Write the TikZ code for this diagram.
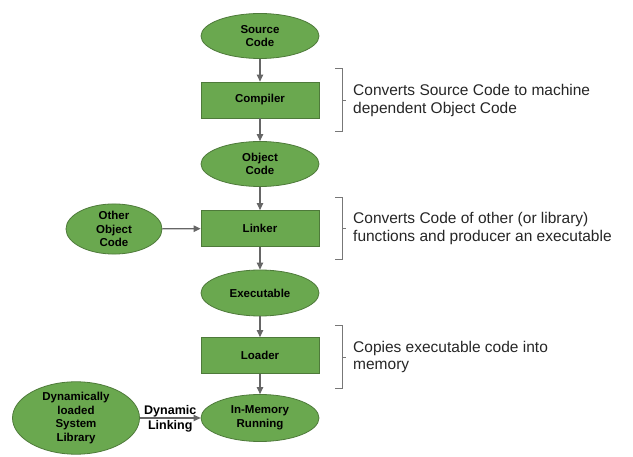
\documentclass[tikz,border=0pt]{standalone}
\usepackage{fontspec}
\setmainfont{Liberation Sans}
\usetikzlibrary{shapes.geometric,arrows.meta}
\definecolor{gfill}{HTML}{6AA84F}
\definecolor{gline}{HTML}{4E7A3A}
\definecolor{arr}{HTML}{666666}
\definecolor{brk}{HTML}{777777}
\tikzset{
  lbl/.style={font=\fontsize{11.5}{13.5}\selectfont\bfseries, align=center, text=black},
  oval/.style={ellipse, draw=gline, line width=0.8pt, fill=gfill, inner sep=0pt, lbl},
  box/.style={rectangle, draw=gline, line width=0.8pt, fill=gfill, minimum width=118pt, minimum height=36pt, inner sep=0pt, lbl},
  conn/.style={draw=arr, line width=1.2pt, -{Triangle[length=7pt,width=6.5pt]}},
  desc/.style={font=\fontsize{15.5}{17.5}\selectfont, align=left, anchor=west, text=black!85, inner sep=0pt},
  brace/.style={draw=brk, line width=0.9pt}
}
\begin{document}
\begin{tikzpicture}[x=1pt,y=-1pt]
\useasboundingbox (0,0) rectangle (633,457);
% nodes
\node[oval, minimum width=118pt, minimum height=45pt] (src) at (260,36) {Source\\Code};
\node[box] (comp) at (260,100) {Compiler};
\node[oval, minimum width=118pt, minimum height=45pt] (obj) at (260,164) {Object\\Code};
\node[box] (link) at (260,228.5) {Linker};
\node[oval, minimum width=96pt, minimum height=46pt] (oth) at (114,229) {Other\\Object\\Code};
\node[oval, minimum width=118pt, minimum height=46pt] (exe) at (260,293) {Executable};
\node[box] (load) at (260,355.5) {Loader};
\node[oval, minimum width=118pt, minimum height=47pt] (run) at (260,418) {In-Memory\\Running};
\node[oval, minimum width=127pt, minimum height=63pt] (dyn) at (76,418) {Dynamically\\loaded\\System\\Library};
% connectors
\draw[conn] (src) -- (comp);
\draw[conn] (comp) -- (obj);
\draw[conn] (obj) -- (link);
\draw[conn] (link) -- (exe);
\draw[conn] (exe) -- (load);
\draw[conn] (load) -- (run);
\draw[conn] (oth) -- (link);
\draw[conn] (dyn) -- node[font=\fontsize{12.5}{15}\selectfont\bfseries, align=center, inner sep=0pt, yshift=-0.5pt] (dl) {Dynamic\\Linking} (run);
% brackets
\coordinate (b1t) at (335,68); \coordinate (b1b) at (335,131);
\draw[brace] (b1t) -- ++(7,0) |- (b1b);
\draw[brace] (342,100) -- ++(4,0);
\node[desc] (d1) at (353,100.5) {Converts Source Code to machine\\dependent Object Code};
\coordinate (b2t) at (335,197); \coordinate (b2b) at (335,259);
\draw[brace] (b2t) -- ++(7,0) |- (b2b);
\draw[brace] (342,228) -- ++(4,0);
\node[desc] (d2) at (353,228.5) {Converts Code of other (or library)\\functions and producer an executable};
\coordinate (b3t) at (335,325); \coordinate (b3b) at (335,388);
\draw[brace] (b3t) -- ++(7,0) |- (b3b);
\draw[brace] (342,357) -- ++(4,0);
\node[desc] (d3) at (353,357) {Copies executable code into\\memory};
\end{tikzpicture}
\end{document}
